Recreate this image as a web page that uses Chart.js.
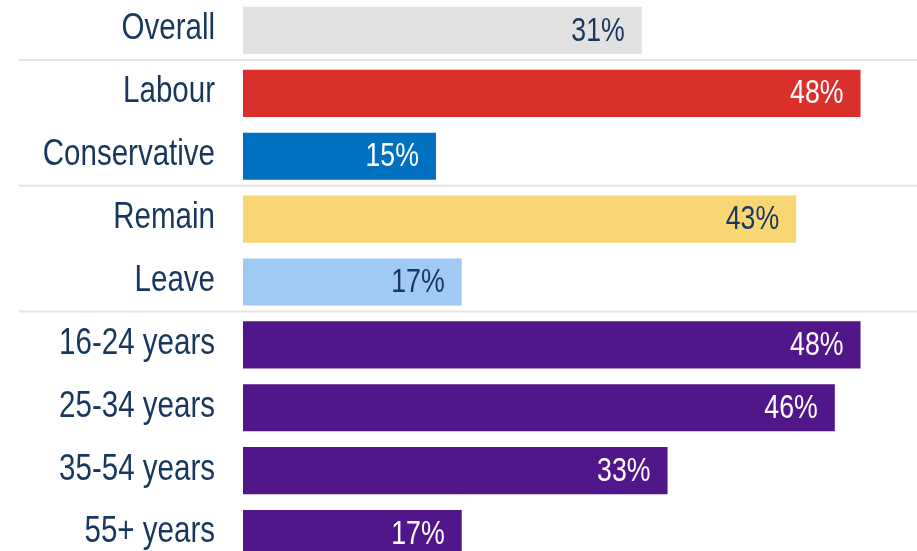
<!DOCTYPE html>
<html>
<head>
<meta charset="utf-8">
<script src="https://cdn.jsdelivr.net/npm/chart.js@4/dist/chart.umd.min.js"></script>
<style>
  html, body { margin: 0; padding: 0; background: #fff; overflow: hidden; }
  body { width: 917px; height: 551px; position: relative; }
  #wrap { position: absolute; left: 0; top: -1px; width: 917px; height: 566px; }
</style>
</head>
<body>
<div id="wrap"><canvas id="chart"></canvas></div>
<script>
// data
const categories = ['Overall', 'Labour', 'Conservative', 'Remain', 'Leave',
    '16-24 years', '25-34 years', '35-54 years', '55+ years'];
const values = [31, 48, 15, 43, 17, 48, 46, 33, 17];
const groupBreaks = [0, 2, 4]; // rule after these rows

// styles
const barColors = ['#e1e1e1', '#da2f2b', '#0071c1', '#f8d674', '#9fcaf4',
    '#52168b', '#52168b', '#52168b', '#52168b'];
const valueColors = ['#17375e', '#ffffff', '#ffffff', '#17375e', '#17375e',
    '#ffffff', '#ffffff', '#ffffff', '#ffffff'];
const FONT = '"Liberation Sans", Arial, sans-serif';
const NAVY = '#17375e';

// draw text squeezed horizontally, anchored at its right edge
function narrowText(ctx, text, right, y, size, squeeze, color) {
    ctx.save();
    ctx.font = size + 'px ' + FONT;
    ctx.fillStyle = color;
    ctx.textAlign = 'right';
    ctx.textBaseline = 'middle';
    ctx.translate(right, y);
    ctx.scale(squeeze, 1);
    ctx.fillText(text, 0, 0);
    ctx.restore();
}

const separators = {
    id: 'separators',
    beforeDatasetsDraw(chart) {
        const ctx = chart.ctx, y = chart.scales.y;
        const step = y.getPixelForValue(1) - y.getPixelForValue(0);
        ctx.save();
        ctx.strokeStyle = '#e4e4e4';
        ctx.lineWidth = 2;
        groupBreaks.forEach(function (i) {
            const py = y.getPixelForValue(i) + step / 2 - 2;
            ctx.beginPath();
            ctx.moveTo(19, py);
            ctx.lineTo(chart.width, py);
            ctx.stroke();
        });
        ctx.restore();
    }
};

const categoryLabels = {
    id: 'categoryLabels',
    afterDraw(chart) {
        const y = chart.scales.y;
        categories.forEach(function (c, i) {
            narrowText(chart.ctx, c, y.right - 28, y.getPixelForValue(i) - 1, 36, 0.82, NAVY);
        });
    }
};

const valueLabels = {
    id: 'valueLabels',
    afterDatasetsDraw(chart) {
        const meta = chart.getDatasetMeta(0);
        meta.data.forEach(function (bar, i) {
            narrowText(chart.ctx, values[i] + '%', bar.x - 17, bar.y + 1, 33, 0.81, valueColors[i]);
        });
    }
};

new Chart(document.getElementById('chart'), {
    type: 'bar',
    data: {
        labels: categories,
        datasets: [{
            data: values,
            backgroundColor: barColors,
            borderWidth: 0,
            barPercentage: 0.75,
            categoryPercentage: 1
        }]
    },
    options: {
        indexAxis: 'y',
        responsive: true,
        maintainAspectRatio: false,
        animation: false,
        layout: { padding: { left: 0, right: 5, top: 0, bottom: 0 } },
        plugins: {
            legend: { display: false },
            tooltip: { enabled: false }
        },
        scales: {
            x: { display: false, min: 0, max: 52 },
            y: {
                grid: { display: false, drawTicks: false },
                border: { display: false },
                ticks: { display: false },
                afterFit: function (scale) { scale.width = 243; }
            }
        }
    },
    plugins: [separators, valueLabels, categoryLabels]
});
</script>
</body>
</html>
